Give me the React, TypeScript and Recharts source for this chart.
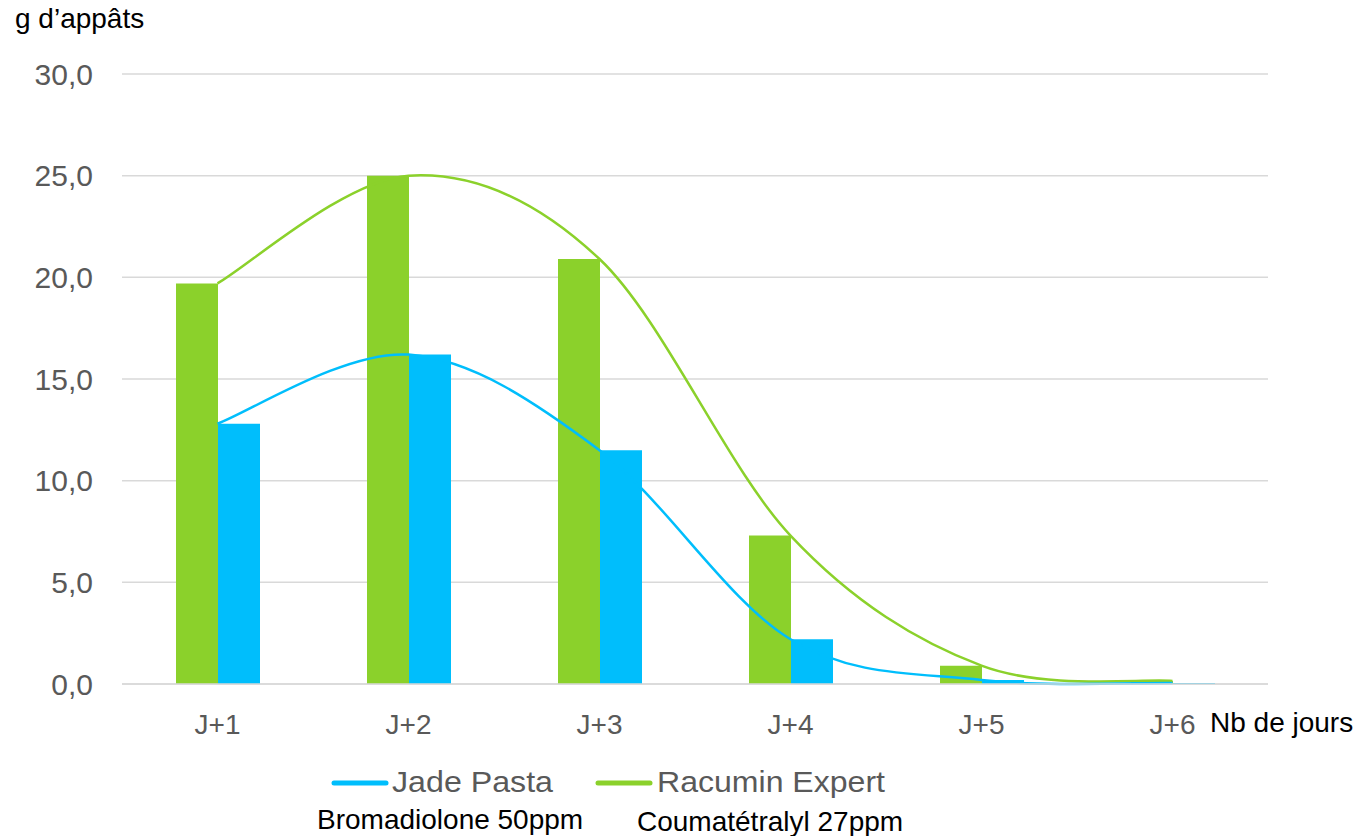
import React from 'react';
import { ComposedChart, Bar, Line, XAxis, YAxis, CartesianGrid } from 'recharts';

const days = ['J+1', 'J+2', 'J+3', 'J+4', 'J+5', 'J+6'];
const racumin = [19.7, 25.0, 20.9, 7.3, 0.9, 0.15];
const jade = [12.8, 16.2, 11.5, 2.2, 0.2, 0.05];
const yTicks = [0, 5, 10, 15, 20, 25, 30];

const data = days.map((d, i) => ({ day: d, racumin: racumin[i], jade: jade[i] }));

const GREEN = '#8BD12B';
const BLUE = '#00BEFC';
const FONT = '"Liberation Sans", Arial, sans-serif';

// Excel-like smoothed line (Catmull-Rom style bezier)
const excelCurve = (context: any) => {
  let pts: number[][] = [];
  return {
    areaStart() {},
    areaEnd() {},
    lineStart() {
      pts = [];
    },
    point(x: number, y: number) {
      pts.push([+x, +y]);
    },
    lineEnd() {
      const n = pts.length;
      if (!n) return;
      context.moveTo(pts[0][0], pts[0][1]);
      const t = 1 / 6;
      for (let i = 0; i < n - 1; i++) {
        const p0 = pts[Math.max(i - 1, 0)];
        const p1 = pts[i];
        const p2 = pts[i + 1];
        const p3 = pts[Math.min(i + 2, n - 1)];
        context.bezierCurveTo(
          p1[0] + (p2[0] - p0[0]) * t,
          p1[1] + (p2[1] - p0[1]) * t,
          p2[0] - (p3[0] - p1[0]) * t,
          p2[1] - (p3[1] - p1[1]) * t,
          p2[0],
          p2[1]
        );
      }
    },
  };
};

const fmt = (v: number) => v.toFixed(1).replace('.', ',');

export default function App() {
  return (
    <div style={{ position: 'absolute', left: 0, top: 0, width: 1363, height: 836, background: '#fff', fontFamily: FONT }}>
      <ComposedChart
        width={1363}
        height={836}
        data={data}
        margin={{ top: 74, right: 95, bottom: 122, left: 22 }}
        barGap={0}
        barSize={42}
      >
        <CartesianGrid vertical={false} stroke="#D9D9D9" strokeWidth={1.5} />
        <XAxis
          dataKey="day"
          height={30}
          tickLine={false}
          axisLine={{ stroke: '#D9D9D9', strokeWidth: 1.5 }}
          tickSize={0}
          tickMargin={30}
          tick={{ fill: '#595959', fontSize: 28, fontFamily: FONT }}
          interval={0}
        />
        <YAxis
          width={100}
          domain={[0, 30]}
          ticks={yTicks}
          tickFormatter={fmt}
          axisLine={false}
          tickLine={false}
          tickSize={0}
          tickMargin={29}
          tick={{ fill: '#595959', fontSize: 30, fontFamily: FONT }}
        />
        <Bar dataKey="racumin" fill={GREEN} isAnimationActive={false} />
        <Bar dataKey="jade" fill={BLUE} isAnimationActive={false} />
        <Line
          dataKey="racumin"
          type={excelCurve as any}
          stroke={GREEN}
          strokeWidth={2.5}
          dot={false}
          activeDot={false}
          isAnimationActive={false}
        />
        <Line
          dataKey="jade"
          type={excelCurve as any}
          stroke={BLUE}
          strokeWidth={2.5}
          dot={false}
          activeDot={false}
          isAnimationActive={false}
        />
      </ComposedChart>
      <svg
        width={1363}
        height={836}
        style={{ position: 'absolute', left: 0, top: 0, pointerEvents: 'none' }}
      >
        <text x={15} y={28} fontSize={28} fill="#000" fontFamily={FONT}>g d’appâts</text>
        <text x={1210} y={732} fontSize={28} fill="#000" fontFamily={FONT}>Nb de jours</text>
        <line x1={334} y1={783} x2={386} y2={783} stroke={BLUE} strokeWidth={5} strokeLinecap="round" />
        <text x={392} y={792} fontSize={29} fill="#595959" fontFamily={FONT} textLength={161} lengthAdjust="spacingAndGlyphs">Jade Pasta</text>
        <line x1={598} y1={783} x2={650} y2={783} stroke={GREEN} strokeWidth={5} strokeLinecap="round" />
        <text x={657} y={792} fontSize={29} fill="#595959" fontFamily={FONT} textLength={228} lengthAdjust="spacingAndGlyphs">Racumin Expert</text>
        <text x={317} y={829} fontSize={28} fill="#000" fontFamily={FONT}>Bromadiolone 50ppm</text>
        <text x={637} y={831} fontSize={28} fill="#000" fontFamily={FONT}>Coumatétralyl 27ppm</text>
      </svg>
    </div>
  );
}
